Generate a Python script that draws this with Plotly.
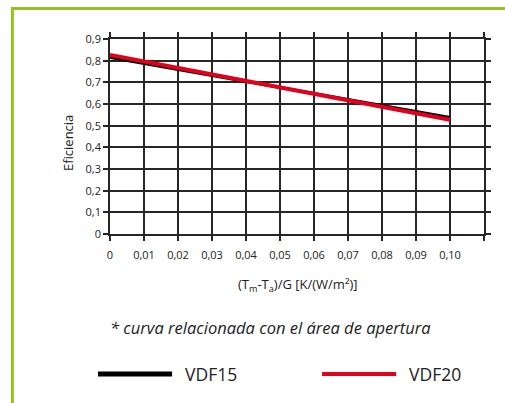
import plotly.graph_objects as go

# Collector efficiency vs reduced temperature difference
x_vals = [0.0, 0.05, 0.10]
vdf15 = [0.815, 0.677, 0.538]
vdf20 = [0.826, 0.677, 0.527]

x_ticks = [0.0, 0.01, 0.02, 0.03, 0.04, 0.05, 0.06, 0.07, 0.08, 0.09, 0.10, 0.11]
x_labels = ["0", "0,01", "0,02", "0,03", "0,04", "0,05", "0,06", "0,07", "0,08", "0,09", "0,10", ""]
y_ticks = [0.0, 0.1, 0.2, 0.3, 0.4, 0.5, 0.6, 0.7, 0.8, 0.9]
y_labels = ["0", "0,1", "0,2", "0,3", "0,4", "0,5", "0,6", "0,7", "0,8", "0,9"]

GRID = "#262626"
GREEN = "#95c11f"
RED = "#e2001a"
FONT = "Open Sans"

fig = go.Figure()
fig.add_trace(go.Scatter(x=x_vals, y=vdf15, mode="lines", name="VDF15",
                         line=dict(color="#000000", width=3)))
fig.add_trace(go.Scatter(x=x_vals, y=vdf20, mode="lines", name="VDF20",
                         line=dict(color=RED, width=4)))

axis_common = dict(showgrid=True, gridcolor=GRID, gridwidth=1.6,
                   showline=True, linecolor=GRID, linewidth=1.6, mirror="ticks",
                   ticks="outside", tickcolor=GRID, tickwidth=1.6, ticklen=5,
                   zeroline=False, tickfont=dict(family=FONT, size=11, color="#222"))

fig.update_xaxes(range=[0, 0.11], tickmode="array", tickvals=x_ticks, ticktext=x_labels,
                 ticklabelstandoff=5, **axis_common)
fig.update_yaxes(range=[0, 0.9], tickmode="array", tickvals=y_ticks, ticktext=y_labels,
                 **axis_common)

shapes = [
    # green frame
    dict(type="rect", xref="paper", yref="paper", x0=-0.261, x1=1.2, y0=-1.0, y1=1.156,
         line=dict(color=GREEN, width=3), fillcolor="rgba(0,0,0,0)", layer="below"),
    # legend swatches
    dict(type="line", xref="paper", yref="paper", x0=-0.032, x1=0.166, y0=-0.718, y1=-0.718,
         line=dict(color="#000000", width=5)),
    dict(type="line", xref="paper", yref="paper", x0=0.567, x1=0.765, y0=-0.718, y1=-0.718,
         line=dict(color=RED, width=4)),
]

def note(text, x, y, size, xanchor="center", angle=0):
    return dict(text=text, xref="paper", yref="paper", x=x, y=y, xanchor=xanchor,
                yanchor="middle", textangle=angle, showarrow=False,
                font=dict(family=FONT, size=size, color="#222"))

annotations = [
    note("Eficiencia", -0.112, 0.467, 13, angle=-90),
    note("(T<sub>m</sub>-T<sub>a</sub>)/G [K/(W/m²)]", 0.5, -0.262, 13),
    note("<i>* curva relacionada con el área de apertura</i>", 0.428, -0.477, 16.5),
    note("VDF15", 0.195, -0.718, 17.5, xanchor="left"),
    note("VDF20", 0.794, -0.718, 17.5, xanchor="left"),
]

fig.update_layout(width=505, height=403, margin=dict(l=110, r=21, t=39, b=169),
                  paper_bgcolor="white", plot_bgcolor="white", showlegend=False,
                  shapes=shapes, annotations=annotations)

fig.write_html("out.html")
